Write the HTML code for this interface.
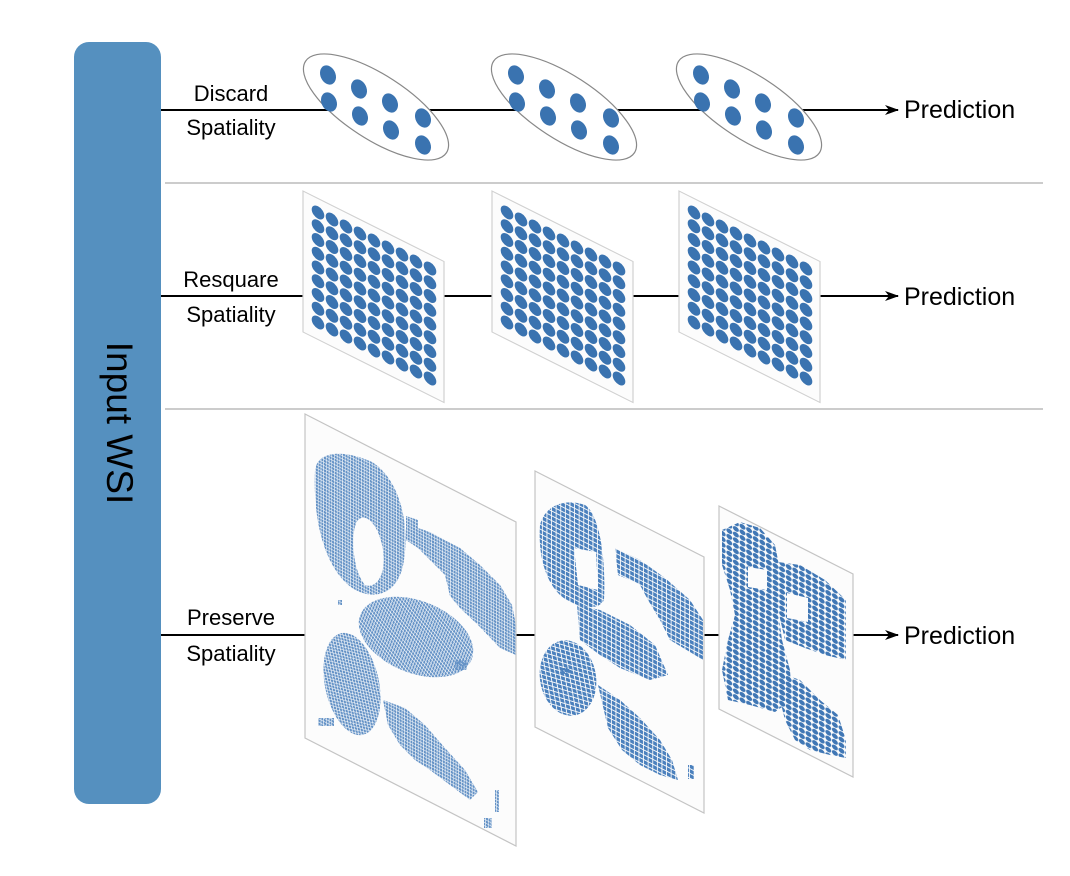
<!DOCTYPE html>
<html><head><meta charset="utf-8"><style>
html,body{margin:0;padding:0;background:#fff;}
svg{display:block;}
text{font-family:"Liberation Sans",sans-serif;fill:#000;}
</style></head><body>
<svg width="1070" height="876" viewBox="0 0 1070 876" xmlns="http://www.w3.org/2000/svg">
<defs>
  <pattern id="p1" width="2.7" height="3.2" patternUnits="userSpaceOnUse" patternTransform="skewY(27)">
    <rect x="0" y="0" width="2.1" height="2.6" fill="#6492c6"/>
  </pattern>
  <pattern id="p2" width="4.6" height="4.8" patternUnits="userSpaceOnUse" patternTransform="skewY(27)">
    <rect x="0" y="0" width="3.7" height="3.8" fill="#4a80bd"/>
  </pattern>
  <pattern id="p3" width="6.6" height="5.6" patternUnits="userSpaceOnUse" patternTransform="skewY(27)">
    <ellipse cx="3.3" cy="2.8" rx="3" ry="2.4" fill="#4077b5"/>
  </pattern>
  <marker id="arr" markerWidth="14" markerHeight="10" refX="13" refY="5" orient="auto" markerUnits="userSpaceOnUse">
    <path d="M0,0 L14,5 L0,10 L4,5 Z" fill="#000"/>
  </marker>
</defs>

<!-- Input WSI bar -->
<rect x="74" y="42" width="87" height="762" rx="15" fill="#5590bf"/>
<text x="117" y="423" font-size="37" text-anchor="middle" dominant-baseline="middle" transform="rotate(90 117 423)">Input WSI</text>

<!-- separators -->
<line x1="165" y1="183" x2="1043" y2="183" stroke="#bbb" stroke-width="1.5"/>
<line x1="165" y1="409" x2="1043" y2="409" stroke="#bbb" stroke-width="1.5"/>

<!-- Row 1 -->
<line x1="161" y1="110" x2="898" y2="110" stroke="#000" stroke-width="2" marker-end="url(#arr)"/>
<text x="231" y="101" font-size="22" text-anchor="middle">Discard</text>
<text x="231" y="135" font-size="22" text-anchor="middle">Spatiality</text>
<g id="ovals"></g>
<text x="904" y="118" font-size="25">Prediction</text>

<!-- Row 2 -->
<line x1="161" y1="296" x2="898" y2="296" stroke="#000" stroke-width="2" marker-end="url(#arr)"/>
<text x="231" y="287" font-size="22" text-anchor="middle">Resquare</text>
<text x="231" y="322" font-size="22" text-anchor="middle">Spatiality</text>
<g id="grids"></g>
<text x="904" y="305" font-size="25">Prediction</text>

<!-- Row 3 -->
<line x1="161" y1="635" x2="898" y2="635" stroke="#000" stroke-width="2" marker-end="url(#arr)"/>
<text x="231" y="625" font-size="22" text-anchor="middle">Preserve</text>
<text x="231" y="661" font-size="22" text-anchor="middle">Spatiality</text>
<text x="904" y="644" font-size="25">Prediction</text>

<!-- Preserve panel 1 -->
<g>
  <polygon points="305,414 516,522 516,846 305,738" fill="#fcfcfc" stroke="#c4c4c4" stroke-width="1.2"/>
  <clipPath id="c1"><polygon points="305,414 516,522 516,846 305,738"/></clipPath>
  <g clip-path="url(#c1)" fill="url(#p1)">
    <path fill-rule="evenodd" d="M315,470 C318,450 345,450 372,462 C398,478 410,520 404,560 C400,590 380,600 360,592 C335,582 312,540 315,470 Z M358,520 C350,530 352,570 365,585 C378,590 388,570 382,545 C378,525 366,512 358,520 Z"/>
    <path d="M406,516 L418,520 L418,528 L430,532 L460,548 L480,565 L500,585 L512,605 L516,625 L516,655 L500,648 L478,625 L460,608 L450,596 L445,575 L430,560 L418,548 L406,540 Z"/>
    <ellipse cx="416" cy="637" rx="60" ry="36" transform="rotate(22 416 637)"/>
    <ellipse cx="352" cy="684" rx="27" ry="52" transform="rotate(-12 352 684)"/>
    <path d="M383,700 L405,708 L425,725 L445,748 L465,770 L478,792 L470,800 L450,785 L430,770 L415,760 L400,745 L388,725 Z"/>
    <rect x="318" y="718" width="16" height="8"/>
    <rect x="455" y="660" width="12" height="10"/>
    <rect x="495" y="790" width="4" height="22"/>
    <rect x="484" y="818" width="8" height="10"/>
    <rect x="338" y="600" width="4" height="5"/>
  </g>
</g>

<!-- Preserve panel 2 -->
<g>
  <polygon points="535,471 704,557 704,813 535,727" fill="#fcfcfc" stroke="#c4c4c4" stroke-width="1.2"/>
  <clipPath id="c2"><polygon points="535,471 704,557 704,813 535,727"/></clipPath>
  <g clip-path="url(#c2)" fill="url(#p2)">
    <path fill-rule="evenodd" d="M540,525 C545,505 565,498 585,505 C600,515 606,560 604,600 C598,612 575,608 560,595 C545,580 538,555 540,525 Z M574,548 L596,552 L598,590 L578,585 Z"/>
    <path d="M615,548 L640,560 L665,578 L690,600 L703,620 L703,660 L690,652 L670,640 L660,620 L648,600 L640,585 L630,580 L618,575 Z"/>
    <path d="M577,605 L600,610 L630,625 L655,645 L668,675 L650,680 L620,668 L600,655 L580,640 Z"/>
    <ellipse cx="568" cy="678" rx="28" ry="38" transform="rotate(-10 568 678)"/>
    <path d="M598,685 L620,700 L640,718 L660,740 L672,760 L678,780 L660,775 L640,765 L622,750 L608,728 Z"/>
    <rect x="560" y="668" width="10" height="6"/>
    <rect x="688" y="765" width="6" height="14"/>
  </g>
</g>

<!-- Preserve panel 3 -->
<g>
  <polygon points="719,506 853,574 853,777 719,709" fill="#fcfcfc" stroke="#c4c4c4" stroke-width="1.2"/>
  <clipPath id="c3"><polygon points="719,506 853,574 853,777 719,709"/></clipPath>
  <g clip-path="url(#c3)" fill="url(#p3)">
    <path fill-rule="evenodd" d="M722,530 L740,522 L760,528 L775,545 L780,570 L778,610 L782,640 L790,670 L792,700 L775,712 L750,705 L728,700 L722,670 L728,640 L735,615 L730,590 L722,565 Z M748,567 L767,570 L767,590 L748,587 Z"/>
    <path fill-rule="evenodd" d="M778,562 L800,565 L825,580 L846,600 L846,660 L825,655 L805,648 L785,640 L778,610 Z M787,593 L808,598 L808,622 L787,618 Z"/>
    <path d="M778,672 L800,680 L820,700 L838,715 L846,740 L846,758 L830,755 L810,750 L795,740 L785,720 L780,700 Z"/>
  </g>
</g>

<script>
// Discard-spatiality oval groups: dot offsets within a group (relative to group origin)
const ovalCentersX = [376, 564, 749];
const dotDX = [-48, -47, -17, -16, 14, 15, 47, 47];
const dotDY = [-32, -5, -18, 9, -4, 23, 11, 38];
const gOv = document.getElementById('ovals');
const NS = 'http://www.w3.org/2000/svg';
ovalCentersX.forEach((cx, k) => {
  const g = document.createElementNS(NS, 'g');
  
  
  const e = document.createElementNS(NS, 'ellipse');
  e.setAttribute('cx', cx); e.setAttribute('cy', 107);
  e.setAttribute('rx', 84); e.setAttribute('ry', 32);
  e.setAttribute('transform', `rotate(33 ${cx} 107)`);
  e.setAttribute('fill', '#fff'); e.setAttribute('stroke', '#888'); e.setAttribute('stroke-width', '1.2');
  g.appendChild(e);
  dotDX.forEach((dx, i) => {
    const d = document.createElementNS(NS, 'ellipse');
    
    
    d.setAttribute('cx', cx + dx); d.setAttribute('cy', 107 + dotDY[i]);
    d.setAttribute('rx', 7.5); d.setAttribute('ry', 10);
    d.setAttribute('transform', `rotate(-25 ${cx + dx} ${107 + dotDY[i]})`);
    d.setAttribute('fill', '#3a73b0');
    g.appendChild(d);
  });
  gOv.appendChild(g);
});

// Resquare-spatiality grid panels
const gridPanelX = [303, 492, 679];
const gridRows = 9, gridCols = 9;
const gGr = document.getElementById('grids');
gridPanelX.forEach((x0, k) => {
  const g = document.createElementNS(NS, 'g');
  
  
  g.setAttribute('transform', `matrix(1,0.5,0,1,${x0},191)`);
  const r = document.createElementNS(NS, 'rect');
  r.setAttribute('x', 0); r.setAttribute('y', 0); r.setAttribute('width', 141); r.setAttribute('height', 141);
  r.setAttribute('fill', '#fcfcfc'); r.setAttribute('stroke', '#d0d0d0'); r.setAttribute('stroke-width', '1.2');
  g.appendChild(r);
  for (let i = 0; i < gridRows; i++) for (let j = 0; j < gridCols; j++) {
    const d = document.createElementNS(NS, 'ellipse');
    
    
    d.setAttribute('cx', 15 + 14 * j); d.setAttribute('cy', 14 + 13.75 * i);
    d.setAttribute('rx', 6.3); d.setAttribute('ry', 6.2);
    d.setAttribute('fill', '#3a73b0');
    g.appendChild(d);
  }
  gGr.appendChild(g);
});
</script>
</svg>
</body></html>
